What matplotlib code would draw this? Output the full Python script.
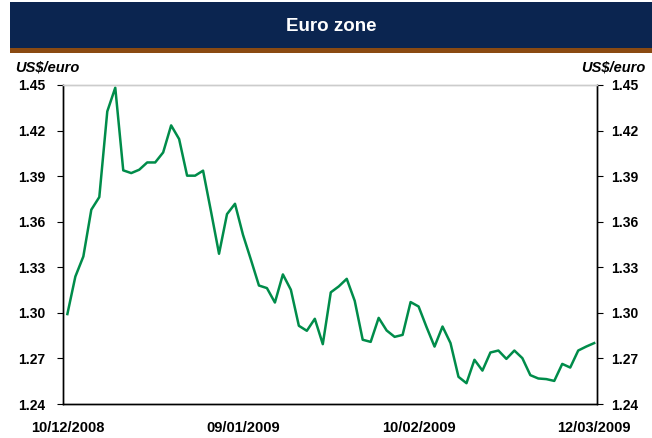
import matplotlib.pyplot as plt
from matplotlib.patches import Rectangle

# US$/euro, daily business days 10/12/2008 .. 12/03/2009
rates = [1.2992, 1.3239, 1.3371, 1.3679, 1.3762, 1.4326, 1.4482, 1.3938, 1.3920, 1.3942,
         1.3990, 1.3990, 1.4056, 1.4234, 1.4144, 1.3903, 1.3903, 1.3936, 1.3666, 1.3389,
         1.3650, 1.3718, 1.3514, 1.3349, 1.3180, 1.3163, 1.3068, 1.3253, 1.3152, 1.2915,
         1.2882, 1.2961, 1.2794, 1.3135, 1.3174, 1.3224, 1.3079, 1.2823, 1.2809, 1.2967,
         1.2884, 1.2842, 1.2855, 1.3071, 1.3042, 1.2906, 1.2778, 1.2910, 1.2801, 1.2579,
         1.2537, 1.2691, 1.2620, 1.2739, 1.2752, 1.2697, 1.2752, 1.2702, 1.2590, 1.2568,
         1.2564, 1.2552, 1.2664, 1.2640, 1.2752, 1.2778, 1.2801]
date_labels = ["10/12/2008", "09/01/2009", "10/02/2009", "12/03/2009"]
label_pos = [0, 22, 44, 66]
y_ticks = [1.24, 1.27, 1.30, 1.33, 1.36, 1.39, 1.42, 1.45]

plt.rcParams['font.family'] = ['Liberation Sans', 'DejaVu Sans']

fig = plt.figure(figsize=(6.52, 4.38), dpi=100)

# header banner
fig.patches.append(Rectangle((0.0153, 0.8904), 1.0, 0.105, transform=fig.transFigure,
                             facecolor='#0B2550', edgecolor='none'))
fig.patches.append(Rectangle((0.0153, 0.8783), 1.0, 0.0121, transform=fig.transFigure,
                             facecolor='#8A4A12', edgecolor='none'))
fig.text(0.508, 0.9406, "Euro zone", color='white', fontsize=13.5, fontweight='bold',
         ha='center', va='center')
fig.text(0.023, 0.847, "US$/euro", fontsize=10.5, fontweight='bold', style='italic',
         ha='left', va='center')
fig.text(0.99, 0.847, "US$/euro", fontsize=10.5, fontweight='bold', style='italic',
         ha='right', va='center')

ax = fig.add_axes([0.0966, 0.0776, 0.819, 0.7284])
ax.plot(range(len(rates)), rates, color='#008C4A', linewidth=1.8)
ax.set_xlim(-0.55, 66.35)
ax.set_ylim(1.24, 1.45)
ax.set_yticks(y_ticks)
ax.set_yticklabels([f"{v:.2f}" for v in y_ticks], fontweight='bold', fontsize=10)
ax.set_xticks(label_pos)
ax.set_xticklabels(date_labels, fontweight='bold', fontsize=10.5)
ax.tick_params(axis='x', length=0, pad=12)
ax.tick_params(axis='y', direction='out', length=4, width=0.8, pad=9)

ax2 = ax.twinx()
ax2.set_ylim(1.24, 1.45)
ax2.set_yticks(y_ticks)
ax2.set_yticklabels([f"{v:.2f}" for v in y_ticks], fontweight='bold', fontsize=10)
ax2.tick_params(axis='y', direction='out', length=4, width=0.8, pad=6)

for a in (ax, ax2):
    for s in ('left', 'right', 'bottom'):
        a.spines[s].set_color('black')
        a.spines[s].set_linewidth(1.0)
    a.spines['top'].set_color('#CCCCCC')
    a.spines['top'].set_linewidth(1.0)

fig.savefig("out.png", dpi=100)
